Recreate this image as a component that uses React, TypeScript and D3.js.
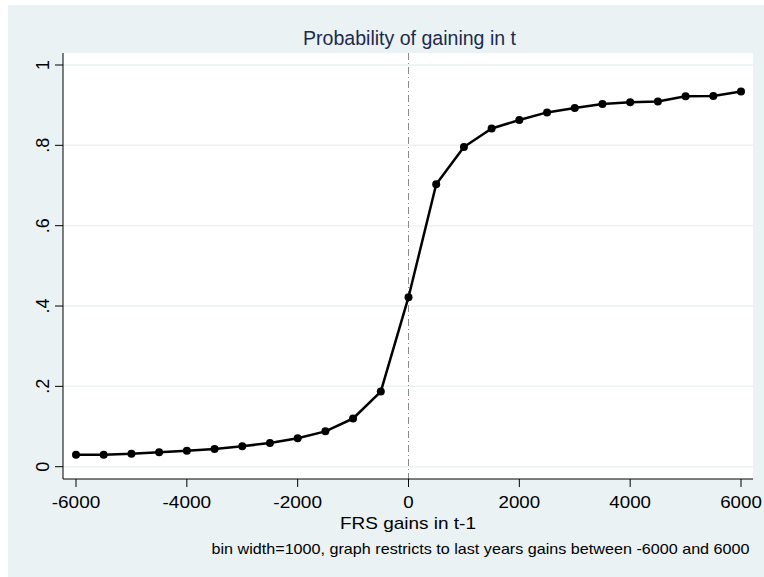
import React from "react";
import * as d3 from "d3";

const xValues = [-6000, -5500, -5000, -4500, -4000, -3500, -3000, -2500, -2000, -1500, -1000, -500, 0, 500, 1000, 1500, 2000, 2500, 3000, 3500, 4000, 4500, 5000, 5500, 6000];
const yValues = [0.030, 0.030, 0.032, 0.036, 0.040, 0.044, 0.051, 0.059, 0.071, 0.088, 0.120, 0.187, 0.422, 0.703, 0.796, 0.842, 0.863, 0.882, 0.893, 0.903, 0.907, 0.909, 0.922, 0.923, 0.934];
const xTicks = [-6000, -4000, -2000, 0, 2000, 4000, 6000];
const yTicks = [0, 0.2, 0.4, 0.6, 0.8, 1];
const yTickLabels = ["0", ".2", ".4", ".6", ".8", "1"];

const W = 764, H = 577;
const font = "Arial, 'Liberation Sans', sans-serif";

export default function App() {
  const plotL = 63, plotR = 753, plotT = 53, plotB = 479;
  const x = d3.scaleLinear().domain([-6000, 6000]).range([76, 741]);
  const y = d3.scaleLinear().domain([0, 1]).range([466.7, 65]);
  const data = xValues.map((v, i) => ({ x: v, y: yValues[i] }));
  const line = d3.line<{ x: number; y: number }>().x(d => x(d.x)).y(d => y(d.y));
  const labelLen = (s: string) => s.replace("-", "").length * 10.4 + (s.startsWith("-") ? 7 : 0);
  return (
    <svg width={W} height={H} style={{ position: "absolute", left: 0, top: 0 }}>
      <rect x={0} y={0} width={W} height={H} fill="#ffffff" />
      <rect x={8} y={5} width={W - 8} height={H - 5} fill="#eaf2f3" />
      <rect x={plotL} y={plotT} width={plotR - plotL} height={plotB - plotT} fill="#ffffff" />
      {yTicks.map((t, i) => (
        <g key={"y" + i}>
          <line x1={plotL} x2={plotR} y1={y(t)} y2={y(t)} stroke="#eaf2f3" strokeWidth={1.5} />
          <line x1={55} x2={plotL} y1={y(t)} y2={y(t)} stroke="#000" strokeWidth={1} />
          <text x={0} y={0} transform={`translate(49,${y(t)}) rotate(-90)`} textAnchor="middle" fontFamily={font} fontSize={18} fill="#000">{yTickLabels[i]}</text>
        </g>
      ))}
      <line x1={x(0)} x2={x(0)} y1={plotT} y2={plotB} stroke="#8a8a8a" strokeWidth={1} strokeDasharray="7,3,1,3" />
      <line x1={plotL} x2={plotL} y1={plotT} y2={plotB} stroke="#000" strokeWidth={1} />
      <line x1={plotL} x2={plotR} y1={plotB} y2={plotB} stroke="#000" strokeWidth={1} />
      {xTicks.map((t, i) => {
        const s = String(t);
        return (
          <g key={"x" + i}>
            <line x1={x(t)} x2={x(t)} y1={plotB} y2={plotB + 8} stroke="#000" strokeWidth={1} />
            <text x={x(t)} y={508} textAnchor="middle" fontFamily={font} fontSize={16.5} fill="#000"
              textLength={labelLen(s)} lengthAdjust="spacingAndGlyphs">{s}</text>
          </g>
        );
      })}
      <path d={line(data) || ""} fill="none" stroke="#000" strokeWidth={2.5} strokeLinejoin="round" />
      {data.map((d, i) => (
        <circle key={"p" + i} cx={x(d.x)} cy={y(d.y)} r={4} fill="#000" />
      ))}
      <text x={409.5} y={45} textAnchor="middle" fontFamily={font} fontSize={20.5} fill="#1c2a4f"
        textLength={213} lengthAdjust="spacingAndGlyphs">Probability of gaining in t</text>
      <text x={408} y={528.5} textAnchor="middle" fontFamily={font} fontSize={17} fill="#000"
        textLength={136} lengthAdjust="spacingAndGlyphs">FRS gains in t-1</text>
      <text x={749.5} y={554} textAnchor="end" fontFamily={font} fontSize={14.5} fill="#000"
        textLength={538} lengthAdjust="spacingAndGlyphs">bin width=1000, graph restricts to last years gains between -6000 and 6000</text>
    </svg>
  );
}
